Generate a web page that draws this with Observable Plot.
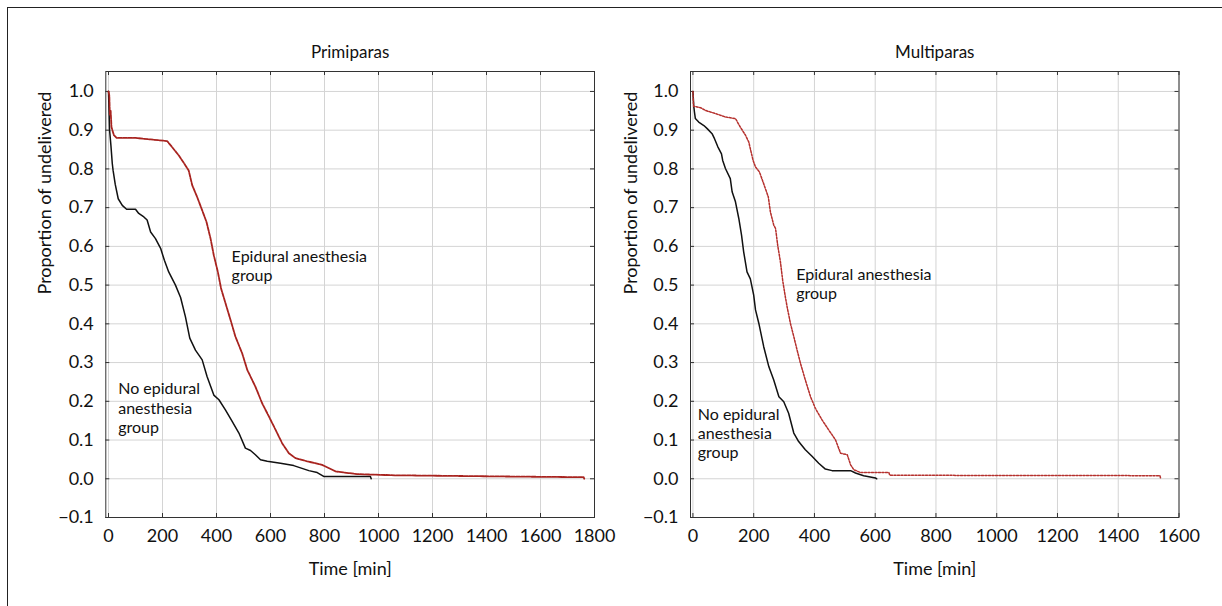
<!DOCTYPE html>
<html><head><meta charset="utf-8">
<script src="https://cdn.jsdelivr.net/npm/d3@7"></script>
<script src="https://cdn.jsdelivr.net/npm/@observablehq/plot@0.6"></script>
<style>
html,body{margin:0;padding:0;background:#fff;overflow:hidden;}
#wrap{position:relative;width:1222px;height:606px;overflow:hidden;}
#border{position:absolute;left:7px;top:7px;width:1400px;height:800px;border-top:1.5px solid #222;border-left:1.5px solid #222;}
.panel{position:absolute;top:0;}
</style></head>
<body><div id="wrap"><div id="border"></div><div id="p1" class="panel" style="left:0px"></div><div id="p2" class="panel" style="left:611px"></div></div>
<script>
// ---- Data ----
const yTicks = [-0.1, 0, 0.1, 0.2, 0.3, 0.4, 0.5, 0.6, 0.7, 0.8, 0.9, 1.0];
const xTicksPrimi = [0, 200, 400, 600, 800, 1000, 1200, 1400, 1600, 1800];
const xTicksMulti = [0, 200, 400, 600, 800, 1000, 1200, 1400, 1600];

// Primiparas – no epidural anesthesia (black)
const primiNoT = [0, 2, 4, 9, 14, 17, 25, 36, 51, 67, 100, 112, 131, 143, 156, 174, 193, 207, 223, 248, 267, 285, 301, 322, 347, 365, 390, 409, 433, 458, 483, 507, 526, 544, 563, 588, 637, 686, 742, 773, 797, 970, 973];
const primiNoS = [1.0, 0.95, 0.90, 0.86, 0.814, 0.796, 0.76, 0.723, 0.706, 0.696, 0.696, 0.685, 0.676, 0.668, 0.637, 0.620, 0.595, 0.564, 0.534, 0.50, 0.468, 0.418, 0.363, 0.332, 0.307, 0.264, 0.216, 0.204, 0.178, 0.148, 0.118, 0.079, 0.073, 0.062, 0.049, 0.045, 0.040, 0.034, 0.021, 0.016, 0.006, 0.006, 0.0];
// Primiparas – epidural anesthesia (red)
const primiEpT = [0, 3, 5, 8, 11, 20, 30, 100, 156, 217, 236, 260, 285, 297, 310, 328, 347, 363, 378, 390, 405, 417, 430, 452, 470, 495, 514, 544, 569, 594, 619, 643, 668, 693, 736, 791, 841, 921, 1060, 1456, 1760, 1762];
const primiEpS = [1.0, 0.99, 0.94, 0.95, 0.908, 0.887, 0.880, 0.880, 0.876, 0.872, 0.856, 0.835, 0.809, 0.796, 0.758, 0.728, 0.693, 0.663, 0.620, 0.577, 0.534, 0.491, 0.461, 0.410, 0.367, 0.324, 0.281, 0.238, 0.195, 0.161, 0.126, 0.092, 0.066, 0.053, 0.045, 0.036, 0.019, 0.012, 0.009, 0.006, 0.004, 0.0];

// Multiparas – no epidural anesthesia (black)
const multiNoT = [0, 3, 5, 8, 19, 36, 47, 63, 71, 82, 94, 98, 107, 123, 129, 140, 151, 160, 167, 178, 189, 200, 206, 217, 233, 250, 266, 283, 299, 315, 332, 348, 370, 392, 414, 436, 458, 519, 535, 562, 601, 605];
const multiNoS = [1.0, 0.96, 0.947, 0.930, 0.921, 0.912, 0.904, 0.891, 0.878, 0.857, 0.839, 0.822, 0.801, 0.775, 0.741, 0.715, 0.672, 0.629, 0.586, 0.534, 0.516, 0.474, 0.436, 0.401, 0.341, 0.289, 0.255, 0.212, 0.199, 0.169, 0.118, 0.096, 0.075, 0.058, 0.040, 0.025, 0.021, 0.021, 0.015, 0.008, 0.002, 0.0];
// Multiparas – epidural anesthesia (red)
const multiEpT = [0, 2, 25, 41, 74, 107, 140, 156, 173, 184, 189, 198, 206, 219, 231, 248, 255, 266, 272, 279, 288, 296, 305, 310, 321, 332, 343, 354, 370, 387, 403, 425, 447, 469, 486, 508, 519, 530, 552, 645, 648, 1537, 1540];
const multiEpS = [1.0, 0.962, 0.958, 0.951, 0.943, 0.934, 0.93, 0.908, 0.887, 0.869, 0.852, 0.822, 0.805, 0.792, 0.766, 0.728, 0.689, 0.655, 0.646, 0.603, 0.560, 0.509, 0.466, 0.444, 0.401, 0.367, 0.332, 0.298, 0.255, 0.212, 0.182, 0.152, 0.126, 0.101, 0.066, 0.062, 0.036, 0.023, 0.016, 0.016, 0.009, 0.008, 0.0];

const titles = ["Primiparas", "Multiparas"];
const xLabel = "Time [min]";
const yLabel = "Proportion of undelivered";
const epLabel = "Epidural anesthesia\ngroup";
const noLabel = "No epidural\nanesthesia\ngroup";

// ---- Drawing ----
const FONT = "Lato, 'Liberation Sans', sans-serif";
const H = 606, MT = 71, MB = 89;
const FH = H - MT - MB;
const zip = (T, S) => T.map((t, i) => ({t, s: S[i]}));

function panel(o) {
  const FW = o.width - o.marginLeft - o.marginRight;
  return Plot.plot({
    width: o.width, height: H,
    marginTop: MT, marginBottom: MB, marginLeft: o.marginLeft, marginRight: o.marginRight,
    x: {domain: o.xDomain}, y: {domain: [-0.1, 1.0515]},
    style: {fontFamily: FONT, background: "transparent", overflow: "visible", color: "#111"},
    marks: [
      Plot.gridX(o.xTicks, {stroke: "#d4d4d4", strokeOpacity: 1}),
      Plot.gridY(yTicks, {stroke: "#d4d4d4", strokeOpacity: 1}),
      Plot.tickX(o.xTicks, {x: d => d, insetTop: FH - 4, stroke: "#333"}),
      Plot.tickX(o.xTicks, {x: d => d, insetBottom: FH - 4, stroke: "#333"}),
      Plot.tickY(yTicks, {y: d => d, insetRight: FW - 4, stroke: "#333"}),
      Plot.tickY(yTicks, {y: d => d, insetLeft: FW - 4, stroke: "#333"}),
      Plot.line(o.black, {x: "t", y: "s", stroke: "#111", strokeWidth: 1.5}),
      Plot.line(o.red, {x: "t", y: "s", stroke: o.redColor, strokeWidth: o.redWidth, strokeDasharray: o.redDash}),
      Plot.frame({stroke: "#333", strokeWidth: 1}),
      Plot.axisX(o.xTicks, {tickSize: 0, tickPadding: 12, fontSize: 18, tickFormat: d => String(d), label: null}),
      Plot.axisY(yTicks, {tickSize: 0, tickPadding: 12, fontSize: 18, tickFormat: d3.format(".1f"), label: null}),
      Plot.text([o.title], {text: d => d, frameAnchor: "top", lineAnchor: "middle", dy: -18.6, fontSize: 17}),
      Plot.text([xLabel], {text: d => d, frameAnchor: "bottom", lineAnchor: "middle", dy: 51.5, fontSize: 18}),
      Plot.text([yLabel], {text: d => d, frameAnchor: "left", lineAnchor: "middle", rotate: -90, dx: o.yLabelDx, fontSize: 18}),
      Plot.text([o.epPos], {x: "x", y: "y", text: () => epLabel, textAnchor: "start", lineHeight: 1.2, fontSize: 16}),
      Plot.text([o.noPos], {x: "x", y: "y", text: () => noLabel, textAnchor: "start", lineHeight: 1.2, fontSize: 16})
    ]
  });
}

document.getElementById("p1").append(panel({
  width: 611, marginLeft: 105.3, marginRight: 17,
  xDomain: [-10, 1800], xTicks: xTicksPrimi, title: titles[0],
  black: zip(primiNoT, primiNoS), red: zip(primiEpT, primiEpS),
  redColor: "#a8231f", redWidth: 1.8, redDash: "4,1.2",
  yLabelDx: -60.7,
  epPos: {x: 456, y: 0.55}, noPos: {x: 36, y: 0.184}
}));
document.getElementById("p2").append(panel({
  width: 611, marginLeft: 79, marginRight: 43.5,
  xDomain: [-8, 1600], xTicks: xTicksMulti, title: titles[1],
  black: zip(multiNoT, multiNoS), red: zip(multiEpT, multiEpS),
  redColor: "#b5302d", redWidth: 1.5, redDash: "2,1.5",
  yLabelDx: -59,
  epPos: {x: 340, y: 0.505}, noPos: {x: 16, y: 0.119}
}));
</script>
</body></html>
